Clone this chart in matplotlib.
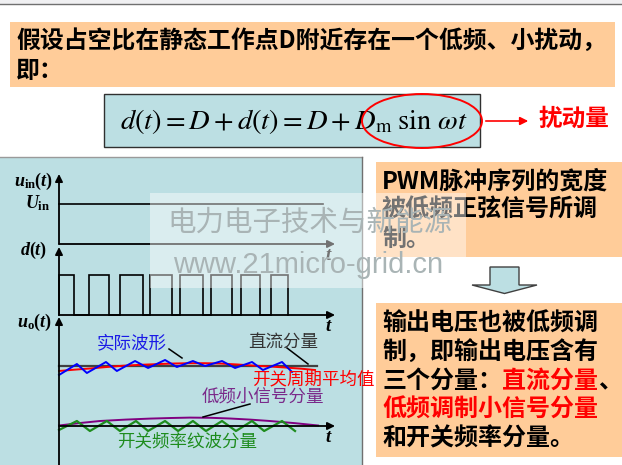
import matplotlib
matplotlib.use('Agg')
import matplotlib.pyplot as plt
from matplotlib.patches import Rectangle, Ellipse, Polygon

plt.rcParams['font.family'] = ['Noto Sans CJK SC', 'DejaVu Sans']
plt.rcParams['mathtext.rm'] = 'Liberation Serif:weight=bold'
plt.rcParams['mathtext.it'] = 'Liberation Serif:style=italic:weight=bold'
plt.rcParams['mathtext.bf'] = 'Liberation Serif:weight=bold'

# ---------------- data ----------------
title_lines = ["假设占空比在静态工作点D附近存在一个低频、小扰动，", "即："]
formula = r"$d(t)=D+d(t)=D+D_{\mathrm{m}}\;\sin\,\omega t$"
perturb_label = "扰动量"
box1_lines = ["PWM脉冲序列的宽度", "被低频正弦信号所调", "制。"]
box2_lines = [
    [("输出电压也被低频调", "k")],
    [("制，即输出电压含有", "k")],
    [("三个分量：", "k"), ("直流分量", "r"), ("、", "k")],
    [("低频调制小信号分量", "r")],
    [("和开关频率分量。", "k")],
]
watermark_cn = "电力电子技术与新能源"
watermark_url = "www.21micro-grid.cn"
axis_labels = [r'$u_{\rm in}(t)$', r'$U_{\rm in}$', r'$d(t)$', r'$u_{\rm o}(t)$']

# PWM pulses: duty ratio of each switching period
duty = [0.50, 0.65, 0.76, 0.73, 0.76, 0.72, 0.63, 0.56]
# actual output waveform (time in switching periods, level)
blue_t = [0, 0.59, 0.92, 1.55, 1.91, 2.51, 2.94, 3.50, 3.89, 4.42, 4.82, 5.38, 5.81, 6.37, 6.73, 7.36, 7.69]
blue_v = [375, 364, 373, 362, 371, 361, 368, 360, 367, 361, 366, 361, 368, 362, 370, 362, 372]
# switching-period average
red_t = [0, 0.5, 1.02, 1.5, 2.08, 2.7, 3.33, 3.8, 4.32, 4.8, 5.31, 5.9, 6.47, 7.0, 7.46, 8.0, 8.45]
red_v = [371, 369.7, 368.5, 367.2, 365.8, 364.8, 364.0, 363.5, 363.2, 363.2, 363.5, 364.5, 365.7, 366.6, 367.5, 368.7, 370]
# DC component
dc_t = [0, 8.51]
dc_v = [365.5, 365.5]
# low-frequency small-signal component
purple_t = [0, 0.7, 1.35, 2.2, 3.0, 3.7, 4.32, 5.0, 5.64, 6.3, 6.96, 7.8, 8.55]
purple_v = [425.5, 423.0, 421.0, 419.6, 418.6, 418.0, 417.6, 417.8, 418.5, 419.6, 421.0, 423.2, 425.5]
# switching ripple component
green_t = [0, 0.59, 1.02, 1.58, 2.01, 2.54, 2.94, 3.50, 3.93, 4.42, 4.85, 5.38, 5.84, 6.37, 6.77, 7.36, 7.79]
green_v = [430, 421, 431, 421, 431, 421, 431, 421, 431, 421, 431, 421, 431, 421, 431, 421, 431]
uin_level = 204
t_end = 9.11

# ---------------- style ----------------
W, H = 622, 465
ORANGE = '#FFCC99'
TEAL = '#BCDFE3'
RED = '#FF0000'
PX, X0 = 30.3, 59  # pixels per switching period, time origin

fig = plt.figure(figsize=(W / 100, H / 100), dpi=100)
fig.patch.set_facecolor('white')


def pixax(z):
    a = fig.add_axes([0, 0, 1, 1], zorder=z)
    a.set_xlim(0, W)
    a.set_ylim(H, 0)
    a.axis('off')
    return a


ax = pixax(0)

# top strip
ax.add_patch(Rectangle((0, 0), W, 4.5, fc='#F0F0F2', ec='none'))
ax.plot([0, W], [4.5, 4.5], color='#707070', lw=1.0)

# title box
ax.add_patch(Rectangle((10, 22), 605, 65, fc=ORANGE, ec='none'))
for i, line in enumerate(title_lines):
    ax.text(16, 41 + 30 * i, line, fontsize=17.2, fontweight='bold', color='k',
            ha='left', va='center')

# formula box
ax.add_patch(Rectangle((104, 94), 376, 53, fc=TEAL, ec='#303030', lw=1.0))
ax.text(294, 121, formula, fontsize=20.5, math_fontfamily='stix', ha='center', va='center')
ax.add_patch(Ellipse((422, 121), 120, 54, fc='none', ec=RED, lw=1.4, zorder=5))
ax.annotate('', xy=(531, 121), xytext=(483, 121),
            arrowprops=dict(arrowstyle='-|>', color=RED, lw=1.2, mutation_scale=12))
ax.text(538, 119, perturb_label, fontsize=17, fontweight='bold', color=RED, ha='left', va='center')

# left panel
ax.add_patch(Rectangle((0, 157), 362, 308, fc=TEAL, ec='none'))
ax.plot([0, 362], [157, 157], color='#9A9A9A', lw=1.0)
ax.plot([362, 362], [157, 465], color='#707070', lw=1.0)

# right boxes
ax.add_patch(Rectangle((376, 162), 246, 95, fc=ORANGE, ec='none'))
for i, line in enumerate(box1_lines):
    ax.text(382, 181 + 29 * i, line, fontsize=17.3, fontweight='bold', color='k',
            ha='left', va='center')

ax.add_patch(Polygon([(490, 267), (519, 267), (519, 285), (537, 285), (504.5, 293.5),
                      (472, 285), (490, 285)], closed=True, fc=TEAL, ec='#404040', lw=1.0))

ax.add_patch(Rectangle((376, 303), 246, 154, fc=ORANGE, ec='none'))
for i, segs in enumerate(box2_lines):
    prev = None
    for txt, col in segs:
        c = RED if col == 'r' else 'k'
        if prev is None:
            prev = ax.text(382, 324 + 28.6 * i, txt, fontsize=17.3, fontweight='bold',
                           color=c, ha='left', va='center')
        else:
            prev = ax.annotate(txt, xy=(1, 0), xycoords=prev, fontsize=17.3,
                               fontweight='bold', color=c, ha='left', va='bottom')

# ---------------- waveform axes ----------------
aw = fig.add_axes([0, 0, 1, 1], zorder=1)
aw.set_xlim(-X0 / PX, (W - X0) / PX)
aw.set_ylim(H, 0)
aw.axis('off')

# vertical axes with arrows
for top, bottom in [(174, 244), (247, 315), (317, 466)]:
    aw.annotate('', xy=(0, top), xytext=(0, bottom),
                arrowprops=dict(arrowstyle='-|>', color='k', lw=1.3, mutation_scale=11,
                                shrinkA=0, shrinkB=0))
# horizontal axes
for yb in [244, 315, 426]:
    aw.annotate('', xy=(t_end, yb), xytext=(0, yb),
                arrowprops=dict(arrowstyle='-|>', color='k', lw=1.3, mutation_scale=11,
                                shrinkA=0, shrinkB=0))
    aw.text(t_end - 0.2, yb + 10.5, r'$t$', fontsize=13.5, math_fontfamily='custom',
            ha='center', va='center')

# u_in
aw.plot([0, 8.71], [uin_level, uin_level], color='k', lw=1.2)

# PWM pulses
hi, lo = 275, 315
px_t, px_v = [0], [lo]
for k, d in enumerate(duty):
    px_t += [k, k, k + d, k + d]
    px_v += [lo, hi, hi, lo]
aw.plot(px_t, px_v, color='k', lw=1.2, solid_joinstyle='miter')

# output waveforms
aw.plot(dc_t, dc_v, color='#404040', lw=1.6)
aw.plot(red_t, red_v, color=RED, lw=1.4)
aw.plot(blue_t, blue_v, color='#0000FF', lw=1.4)
aw.plot(purple_t, purple_v, color='#800080', lw=1.4)
aw.plot(green_t, green_v, color='#1E8C1E', lw=1.6)

# axis labels
lab_kw = dict(fontsize=13, math_fontfamily='custom', ha='right', va='center')
aw.text(-0.2, 181, axis_labels[0], **lab_kw)
aw.text(-0.28, 203, axis_labels[1], **lab_kw)
aw.text(-0.38, 250, axis_labels[2], **lab_kw)
aw.text(-0.22, 322, axis_labels[3], **lab_kw)

# component labels with leader lines
lk = dict(fontsize=12.6, ha='left', va='center')
aw.text((97 - X0) / PX, 343, "实际波形", color='#1A1AE6', **lk)
aw.plot([(169 - X0) / PX, (182 - X0) / PX], [349, 358], color='k', lw=1.1)
aw.text((248 - X0) / PX, 342, "直流分量", color='#333333', **lk)
aw.plot([(287 - X0) / PX, (308 - X0) / PX], [348, 364], color='k', lw=1.1)
aw.text((252 - X0) / PX, 379, "开关周期平均值", color=RED, **lk)
aw.text((202 - X0) / PX, 397, "低频小信号分量", color='#7A2A8A', **lk)
aw.plot([(203 - X0) / PX, (250 - X0) / PX], [417, 404], color='k', lw=1.1)
aw.text((117 - X0) / PX, 441, "开关频率纹波分量", color='#1E8C1E', **lk)

# ---------------- watermark ----------------
at = pixax(2)
at.add_patch(Rectangle((150, 193), 316, 95, fc='white', alpha=0.45, ec='none'))
at.text(310, 223, watermark_cn, fontsize=20.5, color='#A9B4B5', ha='center', va='center')
at.text(308, 265, watermark_url, fontsize=21, family='Liberation Sans', color='#A9B4B5',
        ha='center', va='center')

fig.savefig('out.png', dpi=100)
